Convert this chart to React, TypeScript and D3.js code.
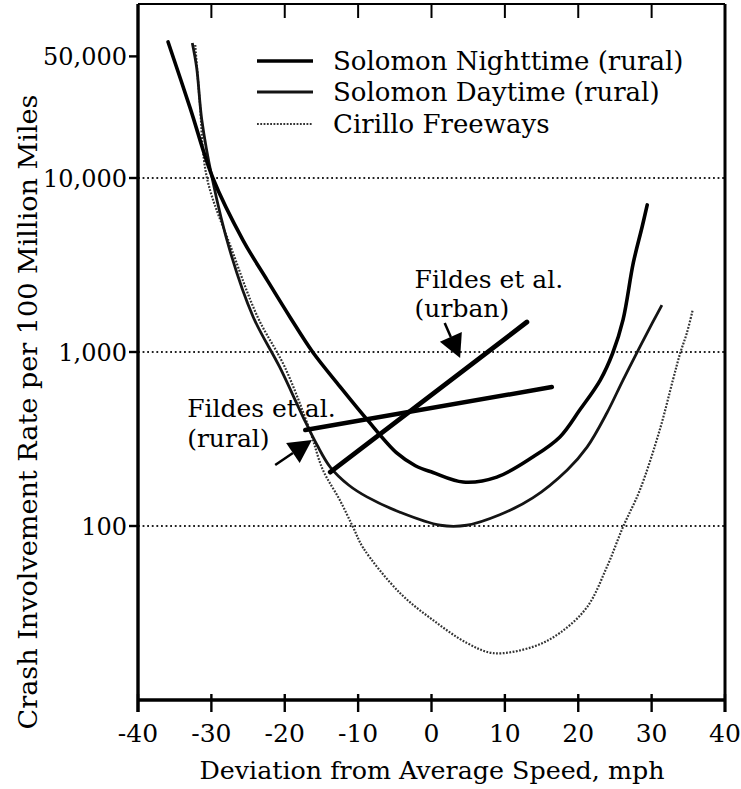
import React from "react";
import * as d3 from "d3";

// ---- data (speed deviation in mph, crash rate per 100 million miles) ----
const nightSpeed = [-35.9, -32.9, -29.8, -25.7, -22.4, -19.3, -16.2, -12.5, -8.8, -4.7, -2.2, 0.2, 4.3, 8.9, 13.8, 17.5, 20.2, 23.0, 24.7, 26.1, 27.5, 28.7, 29.4];
const nightRate = [60500, 25300, 10000, 4400, 2590, 1590, 1000, 635, 410, 262, 222, 203, 179, 191, 249, 325, 464, 690, 987, 1530, 3250, 5230, 7000];

const daySpeed = [-32.6, -32.0, -31.3, -29.9, -27.5, -24.3, -20.7, -17.5, -15.6, -13.8, -11.3, -8.8, -4.3, 1.2, 4.8, 9.3, 13.8, 18.5, 21.2, 23.9, 26.1, 28.4, 30.1, 31.4];
const dayRate = [59700, 42900, 21500, 10000, 3860, 1590, 820, 423, 292, 218, 172, 147, 120, 101, 101, 116, 145, 210, 284, 446, 690, 1070, 1470, 1860];

const cirilloSpeed = [-32.2, -31.6, -30.6, -27.2, -23.7, -20.0, -16.6, -14.8, -12.5, -10.7, -9.3, -4.3, 0.2, 4.8, 8.4, 13.8, 17.5, 21.2, 23.9, 26.1, 28.4, 31.1, 32.9, 33.9, 34.8, 35.6];
const cirilloRate = [58100, 28100, 10000, 3860, 1590, 820, 356, 210, 141, 98.7, 74.8, 41.2, 28.8, 21.3, 18.6, 20.2, 24.3, 34.2, 58.1, 98.7, 161, 356, 690, 987, 1285, 1743];

const fildesRuralSpeed = [-17.2, 16.4];
const fildesRuralRate = [356, 629];
const fildesUrbanSpeed = [-13.8, 13.0];
const fildesUrbanRate = [204, 1487];

// annotation arrows (data coordinates: start -> tip)
const urbanArrowSpeed = [1.8, 3.9];
const urbanArrowRate = [1468, 924];
const ruralArrowSpeed = [-21.3, -16.3];
const ruralArrowRate = [224, 312];

const urbanLabelSpeed = [-2.3];
const urbanLabelRate = [2330, 1590];
const ruralLabelSpeed = [-33.3];
const ruralLabelRate = [423, 284];

const xTicks = [-40, -30, -20, -10, 0, 10, 20, 30, 40];
const xTickLabels = ["-40", "-30", "-20", "-10", "0", "10", "20", "30", "40"];
const yTicks = [50000, 10000, 1000, 100];
const yTickLabels = ["50,000", "10,000", "1,000", "100"];
const gridValues = [10000, 1000, 100];
const legendLabels = ["Solomon Nighttime (rural)", "Solomon Daytime (rural)", "Cirillo Freeways"];

const W = 741;
const H = 789;
const FONT = "'DejaVu Serif', serif";

const NIGHT_STYLE = { stroke: "#000", strokeWidth: 3.6 };
const DAY_STYLE = { stroke: "#141414", strokeWidth: 2.8 };
const CIRILLO_STYLE = { stroke: "#333", strokeWidth: 2.2, strokeDasharray: "1.8 1.5" };

export default function App() {
  const x = d3.scaleLinear().domain([-40, 40]).range([138, 725]);
  const y = d3.scaleLog().domain([10, 100000]).range([700, 4]);

  const zip = (xs: number[], ys: number[]) => xs.map((v, i) => [v, ys[i]] as [number, number]);
  const curve = d3
    .line<[number, number]>()
    .x((d) => x(d[0]))
    .y((d) => y(d[1]))
    .curve(d3.curveCatmullRom.alpha(0.5));
  const straight = d3
    .line<[number, number]>()
    .x((d) => x(d[0]))
    .y((d) => y(d[1]));

  const arrow = (xs: number[], ys: number[]) => {
    const x0 = x(xs[0]), y0 = y(ys[0]), x1 = x(xs[1]), y1 = y(ys[1]);
    const dx = x1 - x0, dy = y1 - y0;
    const len = Math.hypot(dx, dy);
    const ux = dx / len, uy = dy / len;
    const hl = 23, hw = 12;
    const bx = x1 - ux * hl, by = y1 - uy * hl;
    const pts = [
      [x1, y1],
      [bx - uy * hw, by + ux * hw],
      [bx + uy * hw, by - ux * hw],
    ];
    return (
      <g>
        <line x1={x0} y1={y0} x2={bx} y2={by} stroke="#000" strokeWidth={2.5} />
        <polygon points={pts.map((p) => p.join(",")).join(" ")} fill="#000" />
      </g>
    );
  };

  const left = x(-40), right = x(40), top = y(100000), bottom = y(10);

  const legendY = [61, 92, 124];

  return (
    <svg
      width={W}
      height={H}
      style={{ position: "absolute", left: 0, top: 0, background: "#fff" }}
      fontFamily={FONT}
    >
      <rect width={W} height={H} fill="#fff" />
      {/* gridlines */}
      {gridValues.map((v) => (
        <line key={v} x1={left} x2={right} y1={y(v)} y2={y(v)} stroke="#222" strokeWidth={1.8} strokeDasharray="1.8 2.8" />
      ))}

      {/* curves */}
      <path d={curve(zip(cirilloSpeed, cirilloRate)) || ""} fill="none" {...CIRILLO_STYLE} />
      <path d={curve(zip(daySpeed, dayRate)) || ""} fill="none" {...DAY_STYLE} />
      <path d={curve(zip(nightSpeed, nightRate)) || ""} fill="none" {...NIGHT_STYLE} strokeLinecap="round" />
      <path d={straight(zip(fildesRuralSpeed, fildesRuralRate)) || ""} fill="none" stroke="#000" strokeWidth={4.5} strokeLinecap="round" />
      <path d={straight(zip(fildesUrbanSpeed, fildesUrbanRate)) || ""} fill="none" stroke="#000" strokeWidth={4.8} strokeLinecap="round" />

      {/* arrows + annotations */}
      {arrow(urbanArrowSpeed, urbanArrowRate)}
      {arrow(ruralArrowSpeed, ruralArrowRate)}
      <text x={x(urbanLabelSpeed[0])} y={y(urbanLabelRate[0])} fontSize={25}>Fildes et al.</text>
      <text x={x(urbanLabelSpeed[0])} y={y(urbanLabelRate[1])} fontSize={25}>(urban)</text>
      <text x={x(ruralLabelSpeed[0])} y={y(ruralLabelRate[0])} fontSize={25}>Fildes et al.</text>
      <text x={x(ruralLabelSpeed[0])} y={y(ruralLabelRate[1])} fontSize={25}>(rural)</text>

      {/* legend */}
      <line x1={257} x2={313} y1={legendY[0]} y2={legendY[0]} {...NIGHT_STYLE} />
      <line x1={257} x2={313} y1={legendY[1]} y2={legendY[1]} {...DAY_STYLE} />
      <line x1={257} x2={313} y1={legendY[2]} y2={legendY[2]} {...CIRILLO_STYLE} />
      {legendLabels.map((t, i) => (
        <text key={t} x={333} y={legendY[i] + 9} fontSize={26}>{t}</text>
      ))}

      {/* frame */}
      <line x1={left} x2={right} y1={top} y2={top} stroke="#000" strokeWidth={2.2} />
      <line x1={right} x2={right} y1={top} y2={bottom + 12} stroke="#000" strokeWidth={3} />
      <line x1={left} x2={left} y1={top} y2={bottom + 12} stroke="#000" strokeWidth={3.4} />
      <line x1={left} x2={right} y1={bottom} y2={bottom} stroke="#000" strokeWidth={3.4} />

      {/* x ticks */}
      {xTicks.map((t, i) => (
        <g key={t}>
          <line x1={x(t)} x2={x(t)} y1={bottom - 6} y2={bottom + 12} stroke="#000" strokeWidth={2.4} />
          <line x1={x(t)} x2={x(t)} y1={top} y2={top + 14} stroke="#000" strokeWidth={2} />
          <text x={x(t)} y={bottom + 42} fontSize={25} textAnchor="middle">{xTickLabels[i]}</text>
        </g>
      ))}

      {/* y ticks */}
      {yTicks.map((t, i) => (
        <g key={t}>
          <line x1={left - 9} x2={left} y1={y(t)} y2={y(t)} stroke="#000" strokeWidth={2.4} />
          <text x={left - 11} y={y(t) + 9} fontSize={24} textAnchor="end">{yTickLabels[i]}</text>
        </g>
      ))}

      {/* axis titles */}
      <text x={432} y={779} fontSize={25} textAnchor="middle" textLength={465} lengthAdjust="spacingAndGlyphs">
        Deviation from Average Speed, mph
      </text>
      <text
        transform="translate(37,412) rotate(-90)"
        fontSize={26}
        textAnchor="middle"
        textLength={635}
        lengthAdjust="spacingAndGlyphs"
      >
        Crash Involvement Rate per 100 Million Miles
      </text>
    </svg>
  );
}
